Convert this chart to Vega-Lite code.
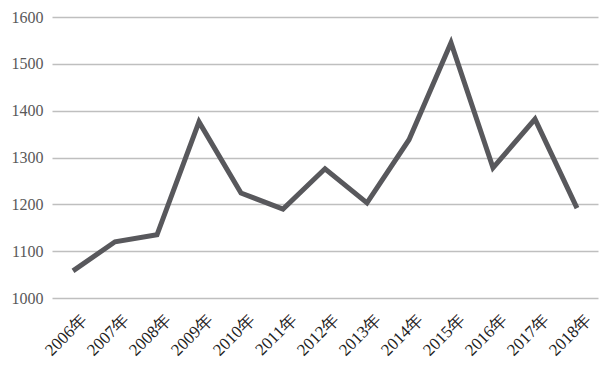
{
  "$schema": "https://vega.github.io/schema/vega-lite/v6.json",
  "width": 546,
  "height": 281,
  "autosize": {"type": "none"},
  "padding": {"left": 52, "top": 17, "right": 12, "bottom": 69},
  "background": "white",
  "data": {"values": [
    {"year": "2006年", "value": 1058},
    {"year": "2007年", "value": 1120},
    {"year": "2008年", "value": 1135},
    {"year": "2009年", "value": 1376},
    {"year": "2010年", "value": 1224},
    {"year": "2011年", "value": 1190},
    {"year": "2012年", "value": 1276},
    {"year": "2013年", "value": 1203},
    {"year": "2014年", "value": 1338},
    {"year": "2015年", "value": 1545},
    {"year": "2016年", "value": 1278},
    {"year": "2017年", "value": 1382},
    {"year": "2018年", "value": 1192}
  ]},
  "mark": {"type": "line", "color": "#58585c", "strokeWidth": 5, "strokeJoin": "miter"},
  "encoding": {
    "x": {
      "field": "year", "type": "ordinal", "sort": null,
      "scale": {"type": "point", "padding": 0.5},
      "axis": {"title": null, "labelAngle": -45, "labelAlign": "right", "labelBaseline": "top", "labelFont": "Liberation Serif", "labelFontSize": 17, "labelColor": "#222222", "domain": false, "ticks": false, "grid": false, "labelPadding": 13, "labelOffset": 5}
    },
    "y": {
      "field": "value", "type": "quantitative",
      "scale": {"domain": [1000, 1600], "nice": false, "zero": false},
      "axis": {"title": null, "values": [1000, 1100, 1200, 1300, 1400, 1500, 1600], "format": "d", "labelFont": "Liberation Serif", "labelFontSize": 16, "labelColor": "#595959", "domain": false, "ticks": false, "grid": true, "gridColor": "#bfbfbf", "gridWidth": 1.3, "labelPadding": 9}
    }
  },
  "config": {"view": {"stroke": null}}
}
